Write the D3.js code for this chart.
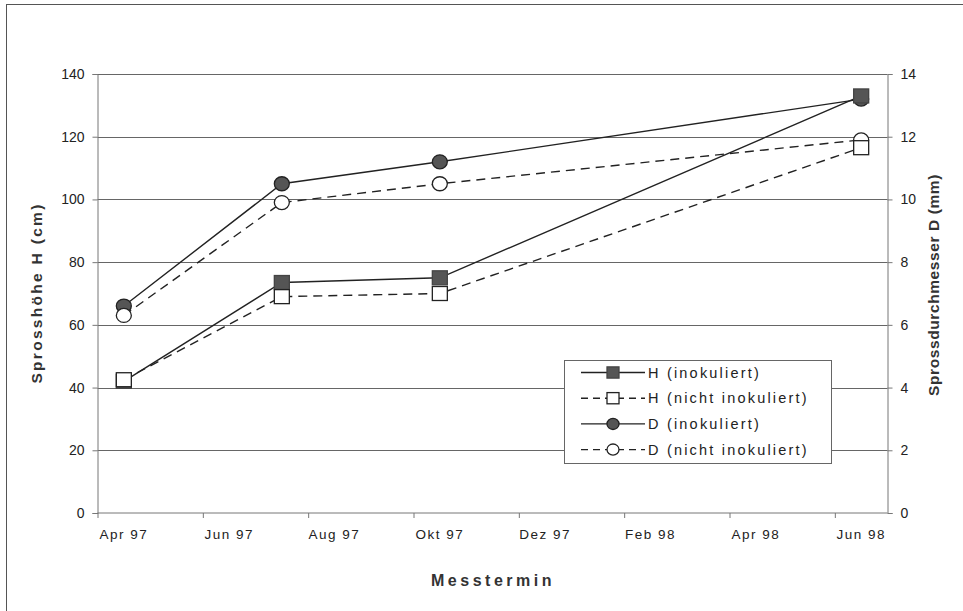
<!DOCTYPE html>
<html>
<head>
<meta charset="utf-8">
<script src="https://cdn.jsdelivr.net/npm/d3@7"></script>
<style>
  html, body { margin: 0; padding: 0; background: #fff; }
  svg { display: block; font-family: "Liberation Sans", Arial, sans-serif; }
</style>
</head>
<body>
<svg id="chart" width="963" height="611"></svg>
<script>
// ---- data ----
const months = ["Apr 97","Mai 97","Jun 97","Jul 97","Aug 97","Sep 97","Okt 97","Nov 97","Dez 97","Jan 98","Feb 98","Mär 98","Apr 98","Mai 98","Jun 98"];
const tickLabels = ["Apr 97","Jun 97","Aug 97","Okt 97","Dez 97","Feb 98","Apr 98","Jun 98"];
const measureDates = ["Apr 97","Jul 97","Okt 97","Jun 98"];
const hInokuliert = [42, 73.5, 75, 133];
const hNichtInokuliert = [42.5, 69, 70, 116.5];
const dInokuliert = [6.6, 10.5, 11.2, 13.2];
const dNichtInokuliert = [6.3, 9.9, 10.5, 11.9];
const hTicks = [0, 20, 40, 60, 80, 100, 120, 140];
const dTicks = [0, 2, 4, 6, 8, 10, 12, 14];
const legendLabels = ["H (inokuliert)", "H (nicht inokuliert)", "D (inokuliert)", "D (nicht inokuliert)"];

// ---- layout ----
const svg = d3.select("#chart");
const L = 97.5, R = 887.5, T = 74, B = 513;
const x = d3.scaleBand().domain(months).range([L, R]).padding(0);
const xc = m => x(m) + x.bandwidth() / 2;
const yH = d3.scaleLinear().domain([0, 140]).range([B, T]);
const yD = d3.scaleLinear().domain([0, 14]).range([B, T]);
const ink = "#222";

// outer frame
svg.append("line").attr("x1", 6).attr("x2", 963).attr("y1", 4.5).attr("y2", 4.5).attr("stroke", "#555").attr("stroke-width", 1);
svg.append("line").attr("x1", 6.5).attr("x2", 6.5).attr("y1", 4).attr("y2", 611).attr("stroke", "#555").attr("stroke-width", 1);

// gridlines
svg.append("g").selectAll("line").data(hTicks.filter(d => d > 0)).join("line")
  .attr("x1", L).attr("x2", R)
  .attr("y1", d => Math.round(yH(d)) + 0.5).attr("y2", d => Math.round(yH(d)) + 0.5)
  .attr("stroke", "#666").attr("stroke-width", 1);

// left axis
const gL = svg.append("g").attr("transform", `translate(${L},0)`)
  .call(d3.axisLeft(yH).tickValues(hTicks).tickSize(5).tickPadding(8));
// right axis
const gR = svg.append("g").attr("transform", `translate(${R},0)`)
  .call(d3.axisRight(yD).tickValues(dTicks).tickSize(5).tickPadding(8));
// bottom axis (ticks at every second month boundary)
const boundaryIdx = d3.range(0, months.length + 1, 2);
const xb = d3.scaleLinear().domain([0, months.length]).range([L, R]);
const gB = svg.append("g").attr("transform", `translate(0,${B})`)
  .call(d3.axisBottom(xb).tickValues(boundaryIdx).tickSize(5).tickFormat(""));
[gL, gR, gB].forEach(g => {
  g.select(".domain").attr("stroke", "#777");
  g.selectAll(".tick line").attr("stroke", "#777");
  g.selectAll("text").attr("fill", ink).attr("font-size", 14)
    .attr("font-family", "'Liberation Sans', Arial, sans-serif");
});
gB.select(".domain").attr("d", `M${L},0H${R}`);

// x tick labels centered in month band
svg.append("g").selectAll("text").data(tickLabels).join("text")
  .attr("x", d => xc(d)).attr("y", 539)
  .attr("text-anchor", "middle").attr("font-size", 13.5).attr("letter-spacing", 1.5)
  .attr("fill", ink).text(d => d);

// axis titles
svg.append("text").attr("transform", `translate(42,293) rotate(-90)`)
  .attr("text-anchor", "middle").attr("font-size", 15.5).attr("font-weight", "bold")
  .attr("letter-spacing", 2.3).attr("fill", "#333").text("Sprosshöhe H (cm)");
svg.append("text").attr("transform", `translate(939,285) rotate(-90)`)
  .attr("text-anchor", "middle").attr("font-size", 15.5).attr("font-weight", "bold")
  .attr("letter-spacing", 0.6).attr("fill", "#333").text("Sprossdurchmesser D (mm)");
svg.append("text").attr("x", 493).attr("y", 586)
  .attr("text-anchor", "middle").attr("font-size", 16).attr("font-weight", "bold")
  .attr("letter-spacing", 3.5).attr("fill", "#333").text("Messtermin");

// ---- series ----
const series = [
  { name: legendLabels[2], vals: dInokuliert, y: yD, dash: null, shape: "circle", fill: "#555" },
  { name: legendLabels[3], vals: dNichtInokuliert, y: yD, dash: "9,6", shape: "circle", fill: "#fff" },
  { name: legendLabels[0], vals: hInokuliert, y: yH, dash: null, shape: "square", fill: "#555" },
  { name: legendLabels[1], vals: hNichtInokuliert, y: yH, dash: "9,6", shape: "square", fill: "#fff" }
];

function drawMarker(g, shape, fill, cx, cy, k) {
  if (shape === "circle") {
    g.append("ellipse").attr("cx", cx).attr("cy", cy).attr("rx", 7.5 * k).attr("ry", 7 * k)
      .attr("fill", fill).attr("stroke", ink).attr("stroke-width", 1.3);
  } else {
    g.append("rect").attr("x", cx - 7.5 * k).attr("y", cy - 7 * k).attr("width", 15 * k).attr("height", 14 * k)
      .attr("fill", fill).attr("stroke", fill === "#fff" ? ink : "#444").attr("stroke-width", 1.3);
  }
}

const line = d3.line();
series.forEach(s => {
  const pts = s.vals.map((v, i) => [xc(measureDates[i]), s.y(v)]);
  svg.append("path").attr("d", line(pts)).attr("fill", "none")
    .attr("stroke", ink).attr("stroke-width", 1.4)
    .attr("stroke-dasharray", s.dash);
});
series.forEach(s => {
  const g = svg.append("g");
  s.vals.forEach((v, i) => drawMarker(g, s.shape, s.fill, xc(measureDates[i]), s.y(v), 1));
});

// ---- legend ----
const leg = svg.append("g");
leg.append("rect").attr("x", 564.5).attr("y", 360.5).attr("width", 267).attr("height", 103)
  .attr("fill", "#fff").attr("stroke", "#666").attr("stroke-width", 1);
const legOrder = [series[2], series[3], series[0], series[1]];
legOrder.forEach((s, i) => {
  const cy = 372.5 + i * 25.7;
  leg.append("line").attr("x1", 581).attr("x2", 645).attr("y1", cy).attr("y2", cy)
    .attr("stroke", ink).attr("stroke-width", 1.4).attr("stroke-dasharray", s.dash ? "7,5" : null);
  drawMarker(leg, s.shape, s.fill, 613, cy, 0.8);
  leg.append("text").attr("x", 648).attr("y", cy + 5)
    .attr("font-size", 14.5).attr("letter-spacing", 2.2).attr("fill", ink).text(s.name);
});
</script>
</body>
</html>
